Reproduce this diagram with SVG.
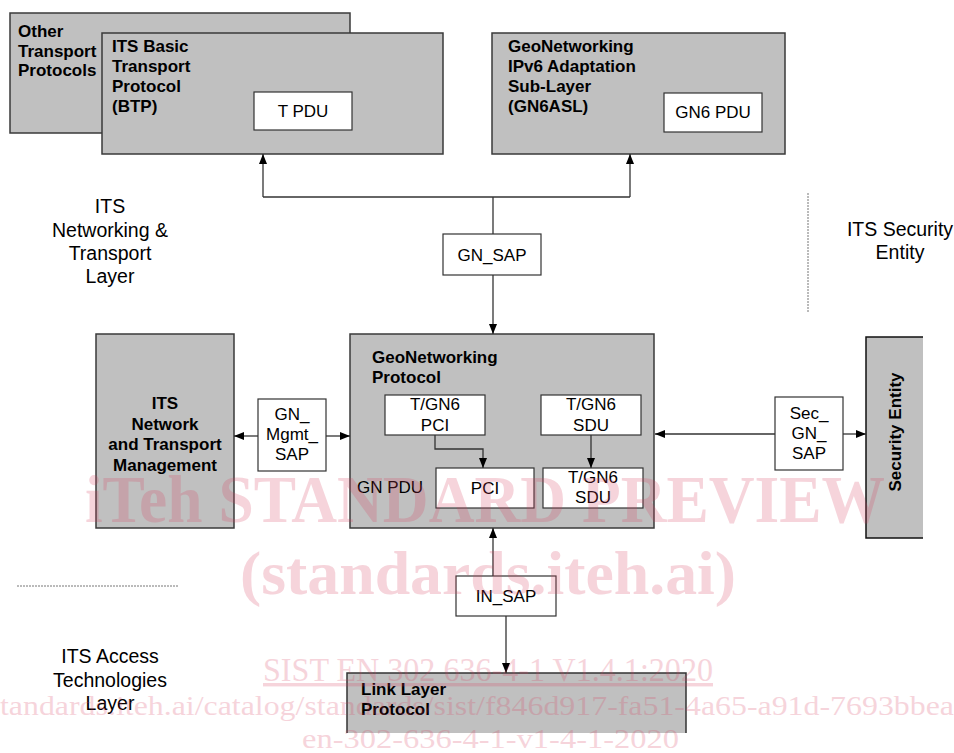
<svg xmlns="http://www.w3.org/2000/svg" width="954" height="753" viewBox="0 0 954 753">
<defs>
<marker id="ah" viewBox="0 0 10 8" refX="10" refY="4" markerWidth="10" markerHeight="8" markerUnits="userSpaceOnUse" orient="auto">
<path d="M0,0 L10,4 L0,8 z" fill="#000"/>
</marker>
<style>
.grey{fill:#c0c0c0;stroke:#3a3a3a;stroke-width:1.5}
.white{fill:#fff;stroke:#333;stroke-width:1.2}
.b{font-family:"Liberation Sans",Arial,sans-serif;font-weight:bold;font-size:17px;fill:#000}
.r{font-family:"Liberation Sans",Arial,sans-serif;font-size:17px;fill:#000}
.c{text-anchor:middle}
.lay{font-family:"Liberation Sans",Arial,sans-serif;font-size:19.5px;fill:#000;text-anchor:middle}
.con{fill:none;stroke:#333;stroke-width:1.3}
.arr{marker-end:url(#ah)}
.dash{fill:none;stroke:#777;stroke-width:1;stroke-dasharray:2 1}
.wm{font-family:"Liberation Serif","Times New Roman",serif;fill:#d8405f;opacity:0.22}
</style>
</defs>
<rect width="954" height="753" fill="#fff"/>

<g id="other-transport">
<rect class="grey" x="10" y="13" width="340" height="120"/>
<text class="b" x="18" y="37">Other</text>
<text class="b" x="18" y="57">Transport</text>
<text class="b" x="18" y="76">Protocols</text>
</g>

<g id="btp">
<rect class="grey" x="102" y="33" width="341" height="121"/>
<text class="b" x="112" y="52">ITS Basic</text>
<text class="b" x="112" y="72">Transport</text>
<text class="b" x="112" y="92">Protocol</text>
<text class="b" x="112" y="112">(BTP)</text>
</g>
<g id="tpdu">
<rect class="white" x="254" y="92" width="98" height="38"/>
<text class="r c" x="303" y="117">T PDU</text>
</g>

<g id="gn6asl">
<rect class="grey" x="492" y="33" width="293" height="121"/>
<text class="b" x="508" y="52">GeoNetworking</text>
<text class="b" x="508" y="72">IPv6 Adaptation</text>
<text class="b" x="508" y="92">Sub-Layer</text>
<text class="b" x="508" y="112">(GN6ASL)</text>
</g>
<g id="gn6pdu">
<rect class="white" x="664" y="93" width="98" height="39"/>
<text class="r c" x="713" y="118">GN6 PDU</text>
</g>

<g id="gn-sap">
<rect class="white" x="443" y="234" width="98" height="41"/>
<text class="r c" x="492" y="261">GN_SAP</text>
</g>

<g id="its-net-mgmt">
<rect class="grey" x="96" y="334" width="138" height="194"/>
<text class="b c" x="165" y="409">ITS</text>
<text class="b c" x="165" y="430">Network</text>
<text class="b c" x="165" y="450">and Transport</text>
<text class="b c" x="165" y="471">Management</text>
</g>

<g id="gn-mgmt-sap">
<rect class="white" x="258" y="399" width="68" height="72"/>
<text class="r c" x="292" y="420">GN_</text>
<text class="r c" x="292" y="440">Mgmt_</text>
<text class="r c" x="292" y="460">SAP</text>
</g>

<g id="gn-protocol">
<rect class="grey" x="350" y="334" width="304" height="194"/>
<text class="b" x="372" y="363">GeoNetworking</text>
<text class="b" x="372" y="383">Protocol</text>
<text class="r" x="357" y="493">GN PDU</text>
</g>
<g id="pci-top">
<rect class="white" x="385" y="395" width="100" height="40"/>
<text class="r c" x="435" y="410">T/GN6</text>
<text class="r c" x="435" y="431">PCI</text>
</g>
<g id="sdu-top">
<rect class="white" x="541" y="395" width="100" height="40"/>
<text class="r c" x="591" y="410">T/GN6</text>
<text class="r c" x="591" y="431">SDU</text>
</g>
<g id="pci">
<rect class="white" x="436" y="468" width="98" height="40"/>
<text class="r c" x="485" y="494">PCI</text>
</g>
<g id="sdu">
<rect class="white" x="543" y="468" width="100" height="40"/>
<text class="r c" x="593" y="483">T/GN6</text>
<text class="r c" x="593" y="503">SDU</text>
</g>

<g id="sec-gn-sap">
<rect class="white" x="775" y="397" width="68" height="73"/>
<text class="r c" x="809" y="419">Sec_</text>
<text class="r c" x="809" y="439">GN_</text>
<text class="r c" x="809" y="459">SAP</text>
</g>

<g id="security-entity">
<rect x="866" y="337" width="57" height="201" fill="#c0c0c0"/>
<path d="M923,337 H866 V538 H923" fill="none" stroke="#111" stroke-width="1.5"/>
<text class="b c" transform="translate(901,432) rotate(-90)">Security Entity</text>
</g>

<g id="in-sap">
<rect class="white" x="456" y="576" width="100" height="40"/>
<text class="r c" x="506" y="602">IN_SAP</text>
</g>

<g id="link-layer">
<rect x="347" y="673" width="339" height="60" fill="#c0c0c0"/>
<path d="M347,733 V673 H686 V733" fill="none" stroke="#333" stroke-width="1.5"/>
<text class="b" x="361" y="695">Link Layer</text>
<text class="b" x="361" y="715">Protocol</text>
</g>

<g id="layer-labels">
<text class="lay" x="110" y="213">ITS</text>
<text class="lay" x="110" y="237">Networking &amp;</text>
<text class="lay" x="110" y="260">Transport</text>
<text class="lay" x="110" y="283">Layer</text>
<text class="lay" x="900" y="236">ITS Security</text>
<text class="lay" x="900" y="259">Entity</text>
<text class="lay" x="110" y="663">ITS Access</text>
<text class="lay" x="110" y="687">Technologies</text>
<text class="lay" x="110" y="710">Layer</text>
</g>

<g id="connectors">
<path class="con" d="M263,197 H630"/>
<path class="con arr" d="M263,197 V154"/>
<path class="con arr" d="M630,197 V154"/>
<path class="con" d="M493,197 V234"/>
<path class="con arr" d="M493,275 V334"/>
<path class="con arr" d="M258,436 H234"/>
<path class="con arr" d="M326,436 H350"/>
<path class="con arr" d="M435,435 V449 H483 V468"/>
<path class="con arr" d="M591,435 V468"/>
<path class="con arr" d="M775,434 H655"/>
<path class="con arr" d="M843,434 H866"/>
<path class="con arr" d="M493,576 V528"/>
<path class="con arr" d="M506,616 V673"/>
<path class="dash" d="M17,586 H178"/>
<path class="dash" d="M808,193 V313"/>
</g>

<g id="watermark">
<text class="wm" x="85" y="522" font-size="68" font-weight="bold" textLength="800" lengthAdjust="spacingAndGlyphs">iTeh STANDARD PREVIEW</text>
<text class="wm" x="240" y="594" font-size="62" font-weight="bold" textLength="496" lengthAdjust="spacingAndGlyphs">(standards.iteh.ai)</text>
<text class="wm" x="263" y="681" font-size="34" textLength="450" lengthAdjust="spacingAndGlyphs" text-decoration="underline">SIST EN 302 636-4-1 V1.4.1:2020</text>
<text class="wm" x="0" y="715" font-size="28" textLength="954" lengthAdjust="spacingAndGlyphs">tandards.iteh.ai/catalog/standards/sist/f846d917-fa51-4a65-a91d-7693bbea</text>
<text class="wm" x="302" y="748" font-size="28" textLength="377" lengthAdjust="spacingAndGlyphs">en-302-636-4-1-v1-4-1-2020</text>
</g>
</svg>
